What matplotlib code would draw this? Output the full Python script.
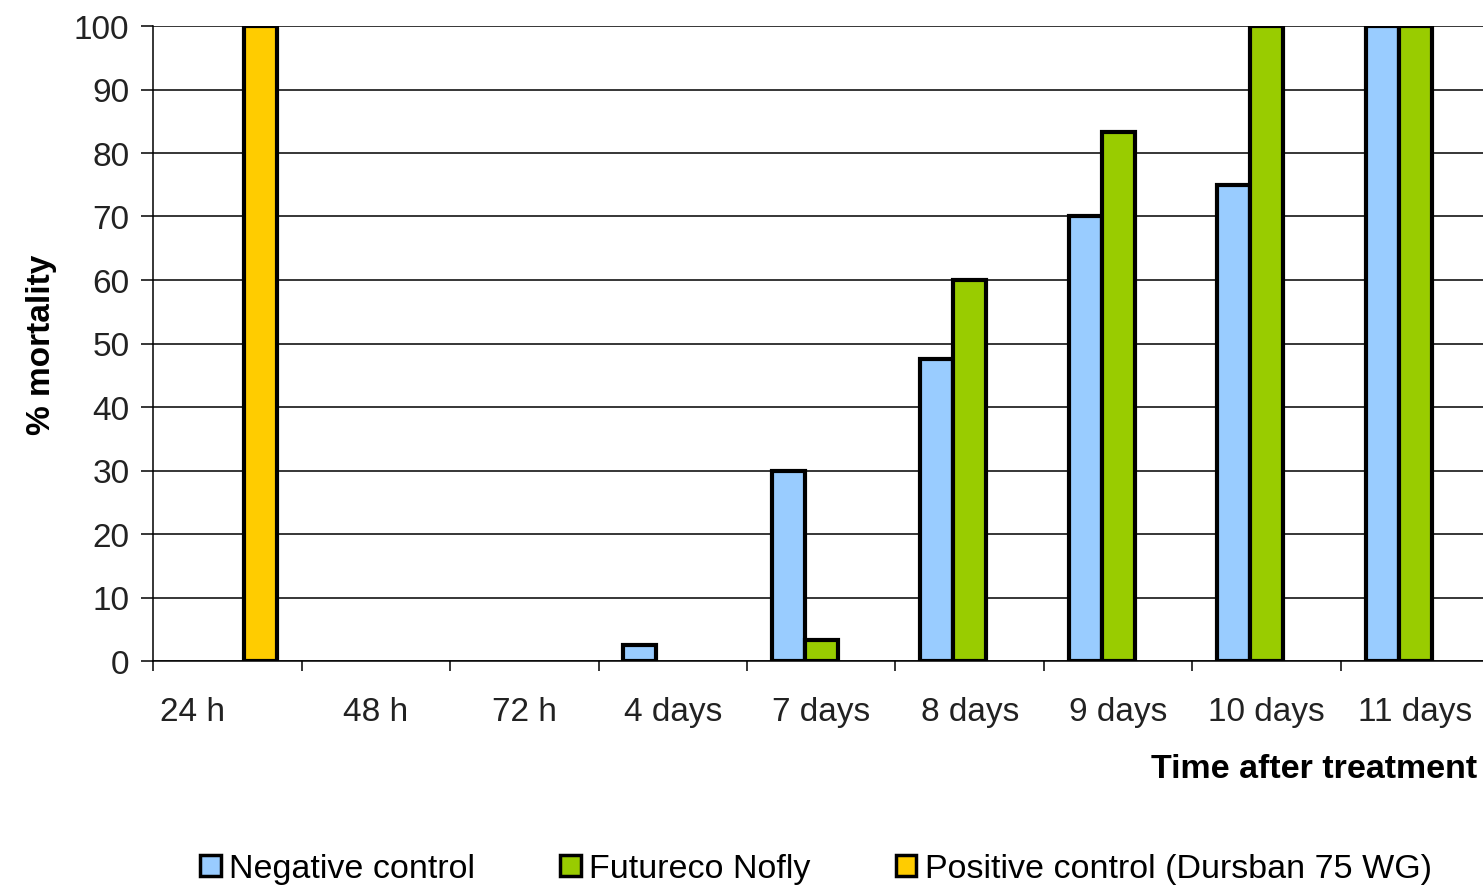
import numpy as np
import matplotlib.pyplot as plt
import matplotlib.transforms as mtransforms
from matplotlib.patches import Patch

plt.rcParams['font.family'] = ['Liberation Sans', 'DejaVu Sans']

# datos
tiempos = ['24 h', '48 h', '72 h', '4 days', '7 days', '8 days', '9 days', '10 days', '11 days']
negativo = [0, 0, 0, 2.5, 30, 47.5, 70, 75, 100]
futureco = [0, 0, 0, 0, 3.3, 60, 83.3, 100, 100]
positivo = [100, 0, 0, 0, 0, 0, 0, 0, 0]

series = [
    ('Negative control', negativo, '#99CCFF'),
    ('Futureco Nofly', futureco, '#99CC00'),
    ('Positive control (Dursban 75 WG)', positivo, '#FFCC00'),
]

fig = plt.figure(figsize=(14.83, 8.87), dpi=100)
ax = fig.add_axes([153 / 1483, 225 / 887, 1330 / 1483, 635 / 887])

x = np.arange(len(tiempos))
ancho = 0.222
for i, (nombre, vals, color) in enumerate(series):
    lw = [3 if v > 0 else 0 for v in vals]
    ax.bar(x + (i - 1) * ancho, vals, ancho, color=color, edgecolor='black',
           linewidth=lw, zorder=3)

ax.set_xlim(-0.5, -0.5 + 1330 / 148.5)
ax.set_ylim(0, 100)
ax.set_yticks(range(0, 101, 10))
ax.yaxis.grid(True, color='black', linewidth=1.1, zorder=0)
ax.set_axisbelow(True)

ax.set_xticks(x)
ax.set_xticklabels(tiempos)
ax.set_xticks(np.arange(len(tiempos)) - 0.5, minor=True)
ax.tick_params(axis='x', which='major', length=0, pad=25, labelsize=24)
ax.tick_params(axis='x', which='minor', length=7, width=1.1)
ax.tick_params(axis='y', length=9, width=1.1, pad=8, labelsize=24)
ax.tick_params(axis='both', colors='black', labelcolor='#222222')

# la primera etiqueta sale corrida a la izquierda en el original
primera = ax.get_xticklabels()[0]
primera.set_transform(primera.get_transform() +
                      mtransforms.ScaledTranslation(-0.35, 0, fig.dpi_scale_trans))

for s in ['top', 'right']:
    ax.spines[s].set_visible(False)
ax.spines['left'].set_linewidth(1.1)
ax.spines['bottom'].set_linewidth(1.1)

ax.set_ylabel('% mortality', fontsize=24, fontweight='bold', labelpad=12)
fig.text(1477 / 1483, 1 - 769 / 887, 'Time after treatment', fontsize=24.5,
         fontweight='bold', ha='right', va='center')

handles = [Patch(facecolor=c, edgecolor='black', linewidth=2.5, label=n) for n, v, c in series]
fig.legend(handles=handles, loc='center', bbox_to_anchor=(816 / 1483, 1 - 870 / 887),
           ncol=3, frameon=False, fontsize=24.5, handlelength=0.6, handleheight=0.6,
           handletextpad=0.25, columnspacing=2.5, borderaxespad=0)

fig.savefig('out.png', dpi=100)
